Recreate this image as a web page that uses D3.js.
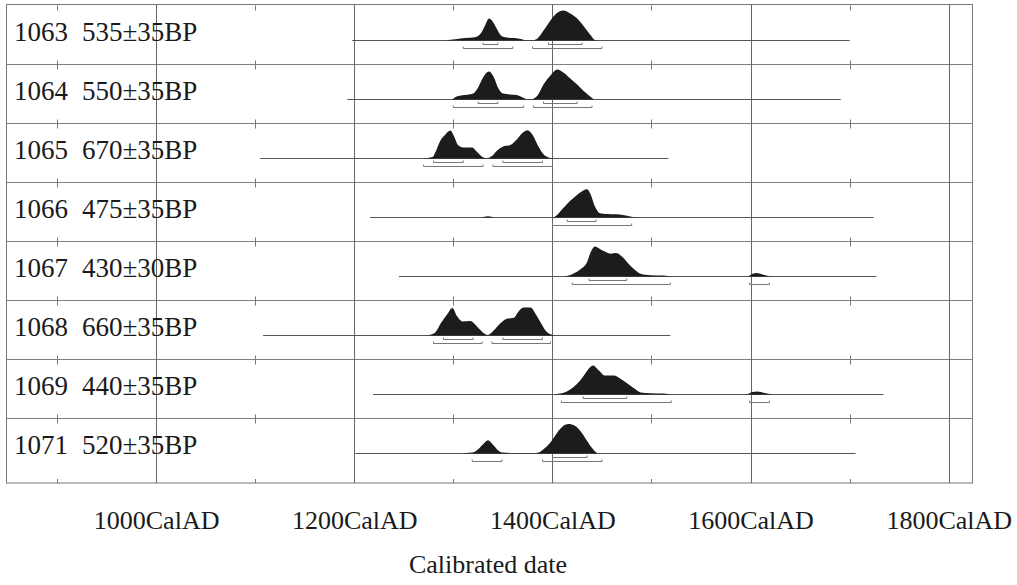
<!DOCTYPE html>
<html>
<head>
<meta charset="utf-8">
<script src="https://cdn.jsdelivr.net/npm/d3@7"></script>
<style>
  body { margin: 0; background: #fff; }
  text { font-family: "Liberation Serif", "Times New Roman", serif; fill: #1a1a1a; }
</style>
</head>
<body>
<div class="chart"></div>
<script>
// sample labels
var sampleIds = ["1063", "1064", "1065", "1066", "1067", "1068", "1069", "1071"]
var bpDates = ["535±35BP", "550±35BP", "670±35BP", "475±35BP", "430±30BP", "660±35BP", "440±35BP", "520±35BP"]

// extent of the thin line under each distribution (cal AD)
var lineStart = [1198, 1193, 1105, 1216, 1245, 1108, 1219, 1201]
var lineEnd = [1700, 1691, 1517, 1724, 1727, 1519, 1734, 1706]

// probability curves: [year, relative probability]
var p1063 = [[1292,0],[1302,0.04],[1312,0.08],[1322,0.11],[1328,0.25],[1332,0.5],[1336,0.73],[1340,0.62],[1344,0.38],[1348,0.17],[1354,0.1],[1362,0.08],[1368,0.05],[1373,0.01],[1380,0.01],[1385,0.07],[1391,0.33],[1398,0.67],[1404,0.9],[1411,1.0],[1418,0.9],[1425,0.73],[1431,0.5],[1438,0.2],[1443,0.02],[1448,0]]
var p1064 = [[1299,0],[1304,0.11],[1314,0.16],[1320,0.2],[1325,0.4],[1330,0.73],[1336,0.93],[1341,0.73],[1345,0.4],[1350,0.2],[1357,0.17],[1364,0.15],[1370,0.07],[1375,0.01],[1380,0.02],[1385,0.13],[1391,0.5],[1398,0.8],[1405,1.0],[1411,0.9],[1418,0.7],[1425,0.5],[1431,0.3],[1438,0.1],[1442,0]]
var p1065 = [[1263,0],[1274,0.02],[1279,0.05],[1282,0.22],[1287,0.6],[1292,0.8],[1297,0.93],[1301,0.72],[1305,0.44],[1310,0.37],[1319,0.37],[1324,0.22],[1329,0.06],[1334,0.01],[1339,0.08],[1344,0.26],[1351,0.41],[1357,0.44],[1363,0.6],[1370,0.86],[1375,0.94],[1380,0.78],[1386,0.39],[1391,0.14],[1396,0.03],[1401,0]]
var p1066 = [[1328,0],[1335,0.04],[1342,0],[1400,0],[1405,0.09],[1410,0.28],[1415,0.46],[1421,0.64],[1428,0.83],[1435,0.94],[1438,0.81],[1443,0.37],[1448,0.14],[1455,0.12],[1465,0.11],[1474,0.07],[1481,0.02],[1486,0]]
var p1067 = [[1412,0],[1421,0.09],[1428,0.23],[1435,0.48],[1438,0.76],[1443,1.0],[1448,0.92],[1453,0.83],[1459,0.76],[1464,0.78],[1471,0.64],[1477,0.42],[1484,0.2],[1489,0.09],[1499,0.04],[1512,0.03],[1521,0],[1597,0],[1602,0.09],[1606,0.12],[1612,0.07],[1618,0.02],[1622,0]]
var p1068 = [[1275,0.01],[1282,0.11],[1287,0.39],[1294,0.72],[1299,0.92],[1304,0.63],[1309,0.47],[1317,0.48],[1322,0.37],[1327,0.19],[1332,0.05],[1335,0.02],[1340,0.14],[1347,0.39],[1354,0.56],[1361,0.59],[1366,0.81],[1371,0.93],[1378,0.93],[1383,0.72],[1388,0.44],[1393,0.17],[1398,0.04],[1403,0]]
var p1069 = [[1401,0],[1408,0.03],[1415,0.11],[1421,0.24],[1428,0.47],[1433,0.69],[1438,0.91],[1441,0.97],[1447,0.8],[1453,0.63],[1462,0.63],[1469,0.52],[1476,0.36],[1483,0.19],[1489,0.07],[1499,0.04],[1512,0.03],[1522,0],[1595,0],[1602,0.08],[1607,0.1],[1613,0.06],[1623,0]]
var p1071 = [[1307,0],[1319,0.03],[1325,0.14],[1330,0.31],[1335,0.44],[1340,0.29],[1345,0.11],[1350,0.03],[1365,0.01],[1381,0.01],[1386,0.03],[1391,0.14],[1398,0.37],[1405,0.7],[1410,0.89],[1416,0.98],[1423,0.92],[1428,0.76],[1435,0.42],[1440,0.18],[1445,0.02],[1448,0]]
var curves = [p1063, p1064, p1065, p1066, p1067, p1068, p1069, p1071]

// 68.2% and 95.4% ranges
var sigma1 = [
    [[1330,1345],[1396,1430]],
    [[1325,1345],[1391,1425]],
    [[1280,1310],[1350,1390]],
    [[1415,1444]],
    [[1437,1475]],
    [[1290,1320],[1350,1390]],
    [[1431,1475]],
    [[1400,1435]]
]
var sigma2 = [
    [[1310,1360],[1380,1450]],
    [[1300,1371],[1381,1440]],
    [[1270,1330],[1340,1400]],
    [[1400,1480]],
    [[1420,1519],[1599,1619]],
    [[1280,1329],[1339,1398]],
    [[1409,1520],[1599,1619]],
    [[1319,1349],[1390,1450]]
]

var majorYears = [1000, 1200, 1400, 1600, 1800]
var minorYears = [900, 1100, 1300, 1500, 1700]
var axisTitle = "Calibrated date"

var width = 1017, height = 585
var top_ = 4.5, bottom_ = 483, rowH = 59.1, peakH = 30

var svg = d3.select(".chart").append("svg")
    .attr("width", width)
    .attr("height", height)

var x = d3.scaleLinear().domain([849, 1824]).range([6.5, 972.5])
function rowTop(i) { return top_ + i * rowH }

// frame + row lines
svg.append("rect")
    .attr("x", x(849)).attr("y", top_)
    .attr("width", x(1824) - x(849)).attr("height", bottom_ - top_)
    .style("fill", "none").style("stroke", "#777")

svg.selectAll("line.row")
    .data(d3.range(1, sampleIds.length))
    .enter().append("line")
    .attr("class", "row")
    .attr("x1", x(849)).attr("x2", x(1824))
    .attr("y1", function(i) { return Math.round(rowTop(i)) + 0.5 })
    .attr("y2", function(i) { return Math.round(rowTop(i)) + 0.5 })
    .style("stroke", "#808080")

svg.selectAll("line.major")
    .data(majorYears)
    .enter().append("line")
    .attr("class", "major")
    .attr("x1", function(d) { return Math.round(x(d)) + 0.5 })
    .attr("x2", function(d) { return Math.round(x(d)) + 0.5 })
    .attr("y1", top_).attr("y2", bottom_)
    .style("stroke", "#666")

// minor ticks on every horizontal line
var tickRows = d3.range(0, sampleIds.length + 1)
tickRows.forEach(function(i) {
    var y = i == sampleIds.length ? bottom_ : Math.round(rowTop(i)) + 0.5
    var up = i == 0 ? 0 : 4, down = i == sampleIds.length ? 0 : 5
    svg.selectAll("line.tick" + i)
        .data(minorYears)
        .enter().append("line")
        .attr("x1", function(d) { return Math.round(x(d)) + 0.5 })
        .attr("x2", function(d) { return Math.round(x(d)) + 0.5 })
        .attr("y1", y - up).attr("y2", y + down)
        .style("stroke", "#777")
})

var area = d3.area()
    .x(function(d) { return x(d[0]) })
    .y1(function(d) { return -d[1] * peakH })
    .y0(0)
    .curve(d3.curveMonotoneX)

function bracket(r, dy) {
    var a = x(r[0]), b = x(r[1])
    return "M" + a + "," + (dy - 2) + "V" + dy + "H" + b + "V" + (dy - 2)
}

sampleIds.forEach(function(id, i) {
    var g = svg.append("g")
        .attr("transform", "translate(0," + (Math.round(rowTop(i) + 35) + 0.5) + ")")

    g.append("text").attr("x", 14).attr("y", 0).style("font-size", "27px").text(id)
    g.append("text").attr("x", 82).attr("y", 0).style("font-size", "27px").text(bpDates[i])

    g.append("line")
        .attr("x1", x(lineStart[i])).attr("x2", x(lineEnd[i]))
        .attr("y1", 0).attr("y2", 0)
        .style("stroke", "#555")

    g.append("path")
        .datum(curves[i])
        .attr("d", area)
        .style("fill", "#1c1c1c")

    g.selectAll("path.s1")
        .data(sigma1[i])
        .enter().append("path")
        .attr("class", "s1")
        .attr("d", function(r) { return bracket(r, 4) })
        .style("fill", "none").style("stroke", "#777")

    g.selectAll("path.s2")
        .data(sigma2[i])
        .enter().append("path")
        .attr("class", "s2")
        .attr("d", function(r) { return bracket(r, 8) })
        .style("fill", "none").style("stroke", "#777")
})

// bottom labels
var xAxis = d3.axisBottom(x)
    .tickValues(majorYears)
    .tickSize(0)
    .tickFormat(function(d) { return d + "CalAD" })

var ax = svg.append("g")
    .attr("transform", "translate(0," + bottom_ + ")")
    .call(xAxis)
ax.select(".domain").remove()
ax.selectAll("text")
    .attr("y", 46)
    .attr("dy", 0)
    .style("font-size", "26px")
    .style("font-family", "Liberation Serif, serif")
    .style("fill", "#1a1a1a")

svg.append("text")
    .attr("x", 488)
    .attr("y", 573)
    .attr("text-anchor", "middle")
    .style("font-size", "26px")
    .text(axisTitle)
</script>
</body>
</html>
